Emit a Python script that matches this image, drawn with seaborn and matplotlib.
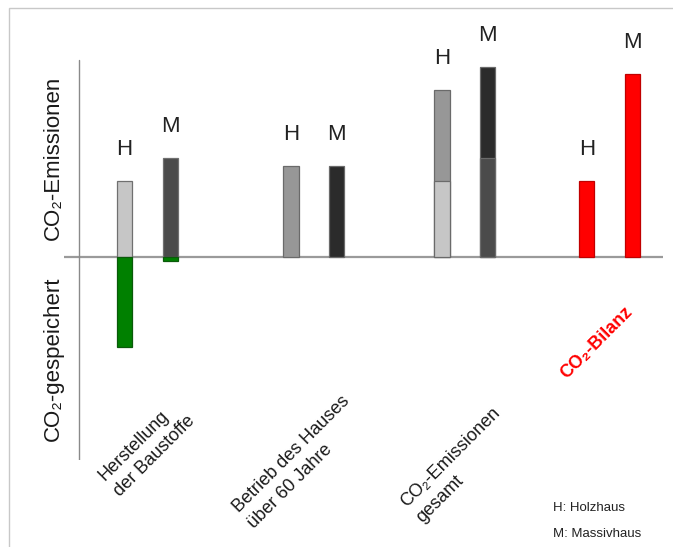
import matplotlib
matplotlib.use("Agg")
import matplotlib.pyplot as plt
import seaborn as sns
import pandas as pd
from matplotlib.patches import Rectangle

# values in relative units (zero line = 0)
houses = ["H", "M"]
herstellung = [7.6, 9.9]
betrieb = [9.1, 9.1]
gespeichert = [-9.0, -0.4]
bilanz = [7.6, 18.3]

categories = ["Herstellung\nder Baustoffe",
              "Betrieb des Hauses\nüber 60 Jahre",
              "CO₂-Emissionen\ngesamt"]
bilanz_label = "CO₂-Bilanz"
ylabel_top = "CO₂-Emissionen"
ylabel_bottom = "CO₂-gespeichert"
legend_lines = ["H: Holzhaus", "M: Massivhaus"]

# layout
group_x = [1.0, 2.08, 3.06, 4.0]
offset = 0.148
bar_w = 0.1
herst_colors = ["#c6c6c6", "#4b4b4b"]
betrieb_colors = ["#979797", "#2b2b2b"]
green = "#008000"
red = "#ff0000"

sns.set_style("white")
plt.rcParams["font.family"] = ["Liberation Sans", "DejaVu Sans"]

fig = plt.figure(figsize=(6.73, 5.47), dpi=100)
ax = fig.add_axes([64 / 673, 87 / 547, 599 / 673, 430 / 547])

rows = []
for i, h in enumerate(houses):
    dx = -offset if i == 0 else offset
    # Herstellung + gespeichert
    rows.append((group_x[0] + dx, herstellung[i], herst_colors[i], "#707070"))
    rows.append((group_x[0] + dx, gespeichert[i], green, "#0a5a0a"))
    # Betrieb
    rows.append((group_x[1] + dx, betrieb[i], betrieb_colors[i], "#6a6a6a"))
    # gesamt: total first, Herstellung on top of it
    rows.append((group_x[2] + dx, herstellung[i] + betrieb[i], betrieb_colors[i], "#6a6a6a"))
    rows.append((group_x[2] + dx, herstellung[i], herst_colors[i], "#6a6a6a"))
    # Bilanz
    rows.append((group_x[3] + dx, bilanz[i], red, "#c00000"))

bars = pd.DataFrame(rows, columns=["x", "value", "color", "edge"])

for _, r in bars.iterrows():
    sns.barplot(x=[r["x"]], y=[r["value"]], native_scale=True, orient="x",
                width=bar_w, color=r["color"], saturation=1, errorbar=None,
                edgecolor=r["edge"], linewidth=0.9, ax=ax)

# H / M letters above each bar
tops = [herstellung, betrieb,
        [a + b for a, b in zip(herstellung, betrieb)], bilanz]
for g, vals in enumerate(tops):
    for i, h in enumerate(houses):
        dx = -offset if i == 0 else offset
        ax.annotate(h, xy=(group_x[g] + dx, vals[i]), xytext=(0, 19),
                    textcoords="offset points", ha="center", va="baseline",
                    fontsize=16, color="#222222")

ax.set_xlim(0.458, 4.347)
ax.set_ylim(-20.3, 22.7)
ax.axhline(0, color="#9a9a9a", lw=1.6, zorder=0)
ax.axvline(0.556, ymin=0, ymax=400 / 430, color="#8a8a8a", lw=1.0)

for s in ax.spines.values():
    s.set_visible(False)
ax.set_xticks([])
ax.set_yticks([])
ax.set_xlabel("")
ax.set_ylabel("")

# category labels under the chart
label_pos = [(0.997, -19.1), (1.984, -20.5), (3.016, -20.8)]
for (lx, ly), txt in zip(label_pos, categories):
    ax.text(lx, ly, txt, rotation=45, rotation_mode="anchor", ha="center",
            va="center", multialignment="left", linespacing=1.4,
            fontsize=13, color="#1a1a1a", clip_on=False)
ax.text(3.919, -8.6, bilanz_label, rotation=45, rotation_mode="anchor",
        ha="center", va="center", fontsize=13, fontweight="bold",
        color=red, clip_on=False)

# y-axis side labels
fig.text(53.5 / 673, 1 - 158 / 547, ylabel_top, rotation=90, ha="center",
         va="center", fontsize=16, color="#1a1a1a")
fig.text(53.5 / 673, 1 - 359 / 547, ylabel_bottom, rotation=90, ha="center",
         va="center", fontsize=16, color="#1a1a1a")

# key
fig.text(553 / 673, 1 - 511 / 547, legend_lines[0], ha="left", va="baseline",
         fontsize=9.5, color="#222222")
fig.text(553 / 673, 1 - 537 / 547, legend_lines[1], ha="left", va="baseline",
         fontsize=9.5, color="#222222")

# light frame around the picture
fig.patches.append(Rectangle((9 / 673, -0.05), 1.2, 1.05 - 8 / 547,
                             transform=fig.transFigure, fill=False,
                             edgecolor="#c8c8c8", lw=1.0))

fig.savefig("out.png", dpi=100)
